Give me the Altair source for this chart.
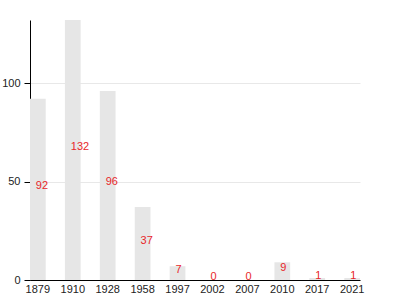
import altair as alt
import pandas as pd

years = ["1879", "1910", "1928", "1958", "1997", "2002", "2007", "2010", "2017", "2021"]
values = [92, 132, 96, 37, 7, 0, 0, 9, 1, 1]

df = pd.DataFrame({"year": years, "value": values})

x = alt.X("year:N", sort=years, title=None,
          scale=alt.Scale(paddingInner=0.55, paddingOuter=0),
          axis=alt.Axis(labelAngle=0, ticks=False, domainColor="black",
                        labelFontSize=11, labelColor="#222", labelFont="Liberation Sans",
                        grid=False, labelPadding=3))

base = alt.Chart(df).encode(x=x)

bars = base.mark_bar(color="#e6e6e6").encode(
    y=alt.Y("value:Q", title=None,
            scale=alt.Scale(domain=[0, 132], nice=False),
            axis=alt.Axis(values=[0, 50, 100], domainColor="black", tickColor="black",
                          tickSize=6, labelFontSize=11, labelColor="#222",
                          labelFont="Liberation Sans", gridColor="#e8e8e8", labelPadding=4))
)

labels = base.transform_calculate(half="datum.value / 2").mark_text(
    color="#e8262a", fontSize=11, font="Liberation Sans", align="left",
    baseline="alphabetic", dx=-2
).encode(
    y=alt.Y("half:Q", scale=alt.Scale(domain=[0, 132], nice=False)),
    text=alt.Text("value:Q")
)

chart = alt.layer(bars, labels).properties(
    width=330, height=260,
    autosize=alt.AutoSizeParams(type="none"),
    padding={"left": 30, "top": 20, "right": 40, "bottom": 20},
).configure_view(stroke=None)

chart.save("out.html", embed_options={"renderer": "svg", "actions": False})
